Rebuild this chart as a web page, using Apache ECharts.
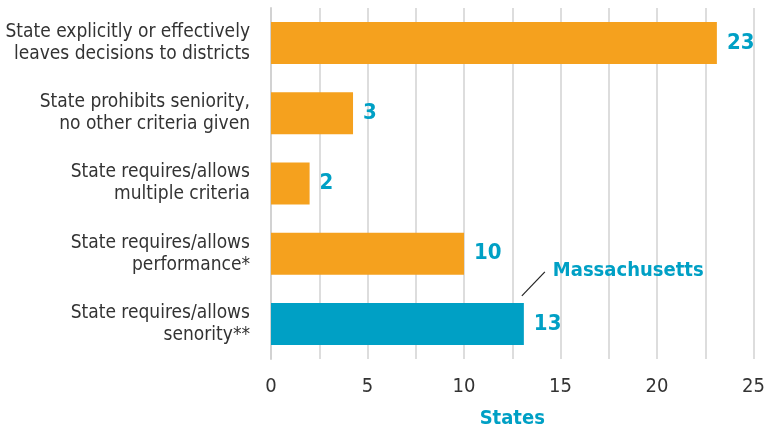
<!DOCTYPE html>
<html>
<head>
<meta charset="utf-8">
<script src="https://cdn.jsdelivr.net/npm/echarts@6/dist/echarts.min.js"></script>
<style>
  html, body { margin: 0; padding: 0; background: #fff; }
  #main { width: 768px; height: 434px; }
</style>
</head>
<body>
<div id="main"></div>
<script>
var categories = [
    'State explicitly or effectively\nleaves decisions to districts',
    'State prohibits seniority,\nno other criteria given',
    'State requires/allows\nmultiple criteria',
    'State requires/allows\nperformance*',
    'State requires/allows\nsenority**'
];
// bar lengths as drawn in the picture
var barLengths = [23.1, 4.25, 2, 10, 13.1];
// numbers printed beside the bars
var valueLabels = ['23', '3', '2', '10', '13'];
var highlightIndex = 4;
var highlightName = 'Massachusetts';
var xTicks = [0, 5, 10, 15, 20, 25];

var ORANGE = '#f5a11e';
var TEAL = '#00a0c5';
var FONT = '"Liberation Sans Narrow", "DejaVu Sans Condensed", sans-serif';

var myChart = echarts.init(document.getElementById('main'));

var barData = [];
for (var i = 0; i < barLengths.length; i++) {
    barData.push({
        value: barLengths[i],
        itemStyle: { color: i == highlightIndex ? TEAL : ORANGE }
    });
}

myChart.setOption({
    animation: false,
    grid: {
        left: 271,
        right: 13,
        top: 8,
        bottom: 74
    },
    xAxis: {
        type: 'value',
        min: 0,
        max: 25,
        interval: 2.5,
        name: 'States',
        nameLocation: 'middle',
        nameGap: 50,
        nameTextStyle: {
            color: TEAL,
            fontFamily: FONT,
            fontWeight: 'bold',
            fontSize: 20
        },
        axisLine: { show: false },
        axisTick: { show: false },
        axisLabel: {
            margin: 18,
            color: '#333',
            fontFamily: FONT,
            fontSize: 20,
            formatter: function (v) {
                return xTicks.indexOf(v) > -1 ? String(v) : '';
            }
        },
        splitLine: {
            lineStyle: { color: '#d2d2d2', width: 1.5 }
        }
    },
    yAxis: {
        type: 'category',
        inverse: true,
        data: categories,
        axisLine: {
            lineStyle: { color: '#d2d2d2', width: 2 }
        },
        axisTick: {
            length: 6,
            lineStyle: { color: '#d2d2d2', width: 2 }
        },
        axisLabel: {
            margin: 21,
            color: '#333',
            fontFamily: FONT,
            fontSize: 19,
            lineHeight: 22,
            align: 'right'
        }
    },
    series: [{
        type: 'bar',
        data: barData,
        barWidth: 42,
        label: {
            show: true,
            position: 'right',
            distance: 10,
            color: TEAL,
            fontFamily: FONT,
            fontWeight: 'bold',
            fontSize: 22,
            formatter: function (p) {
                return valueLabels[p.dataIndex];
            }
        }
    }]
});

// callout for the highlighted bar
var p = myChart.convertToPixel({ seriesIndex: 0 }, [barLengths[highlightIndex], highlightIndex]);
myChart.setOption({
    graphic: [{
        type: 'line',
        shape: { x1: p[0] - 2, y1: p[1] - 28, x2: p[0] + 21, y2: p[1] - 52 },
        style: { stroke: '#222', lineWidth: 1.2 }
    }, {
        type: 'text',
        x: p[0] + 29,
        y: p[1] - 53,
        style: {
            text: highlightName,
            fill: TEAL,
            font: 'bold 20px ' + FONT,
            textVerticalAlign: 'middle'
        }
    }]
});
</script>
</body>
</html>
